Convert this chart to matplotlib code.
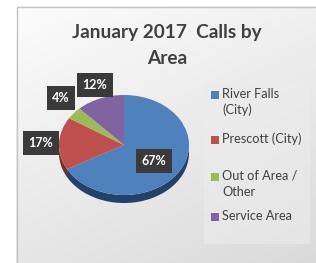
import numpy as np
import matplotlib
matplotlib.use("Agg")
import matplotlib.pyplot as plt
from matplotlib.patches import Rectangle, Polygon

plt.rcParams["font.family"] = ["Lato", "DejaVu Sans"]

# ---------- data ----------
areas = ["River Falls\n(City)", "Prescott (City)", "Out of Area /\nOther", "Service Area"]
shares = [67, 17, 4, 12]
colors = ["#4f81bd", "#c0504d", "#9bbb59", "#8064a2"]
side_colors = ["#24416a", "#7a2c2a", "#5e7a30", "#4e3a6a"]

# label box centres and legend rows, in figure px
label_xy = [(154, 161), (41, 143), (61, 98), (95, 85)]
legend_y = [95, 140, 177, 217]

W, H = 316, 263
fig = plt.figure(figsize=(W / 100, H / 100), dpi=100)

# ---------- background, border, title, legend (pixel coords) ----------
bg = fig.add_axes([0, 0, 1, 1])
bg.set_xlim(0, W); bg.set_ylim(H, 0); bg.axis("off")
gx, gy = np.meshgrid(np.linspace(0, 1, 200), np.linspace(0, 1, 200))
cmap = matplotlib.colors.LinearSegmentedColormap.from_list("bg", ["#fcfcfc", "#dadada"])
bg.imshow(0.35 * gx + 0.65 * gy, cmap=cmap, extent=(16, W + 2, H + 2, 6),
          aspect="auto", zorder=0)
bg.add_patch(Rectangle((16.5, 6.5), W, H, fill=False, ec="#c4c4c4", lw=1, zorder=1))
bg.text(167, 38, "January 2017  Calls by", ha="center", va="baseline",
        fontsize=13.7, fontweight="bold", color="#404040")
bg.text(167, 64, "Area", ha="center", va="baseline",
        fontsize=13.7, fontweight="bold", color="#404040")

bg.add_patch(Rectangle((204, 83), 106, 161, fc="#ececec", ec="none", alpha=0.6, zorder=1))
for name, c, y in zip(areas, colors, legend_y):
    bg.add_patch(Rectangle((211, y - 4), 8, 8, fc=c, ec="none", zorder=2))
    bg.text(222, y - 7.5, name, ha="left", va="top", fontsize=9.2,
            color="#404040", linespacing=1.4, zorder=3)

# ---------- pie (elliptical, with depth) ----------
cx, cy, rx, ry = 124, 145, 65, 50
xl, yl = (-1.3, 1.3), (-1.5, 1.2)
left = cx + xl[0] * rx
top = cy - yl[1] * ry
ax = fig.add_axes([left / W, 1 - (top + (yl[1] - yl[0]) * ry) / H,
                   (xl[1] - xl[0]) * rx / W, (yl[1] - yl[0]) * ry / H])
ax.patch.set_alpha(0)
wedges, _ = ax.pie(shares, colors=colors, startangle=90, counterclock=False,
                   wedgeprops=dict(linewidth=0))
ax.set_aspect("auto"); ax.set_xlim(*xl); ax.set_ylim(*yl); ax.axis("off")

depth = 8 / ry
for w, sc in zip(wedges, side_colors):
    for lo, hi in [(-540, -360), (-180, 0), (180, 360)]:
        a, b = max(w.theta1, lo), min(w.theta2, hi)
        if b <= a:
            continue
        t = np.radians(np.linspace(a, b, 60))
        pts = np.r_[np.c_[np.cos(t), np.sin(t)],
                    np.c_[np.cos(t[::-1]), np.sin(t[::-1]) - depth]]
        ax.add_patch(Polygon(pts, closed=True, fc=sc, ec="none", zorder=0))

# ---------- data labels on top ----------
lab = fig.add_axes([0, 0, 1, 1]); lab.axis("off")
lab.set_xlim(0, W); lab.set_ylim(H, 0)
bg.set_zorder(0); ax.set_zorder(1); lab.set_zorder(2)
for v, (px, py) in zip(shares, label_xy):
    lab.text(px, py, f"{v}%", ha="center", va="center", fontsize=9, fontweight="bold",
             color="white",
             bbox=dict(boxstyle="square,pad=0.45", fc="#3a3a3a", ec="none"))

fig.savefig("out.png", dpi=100)
